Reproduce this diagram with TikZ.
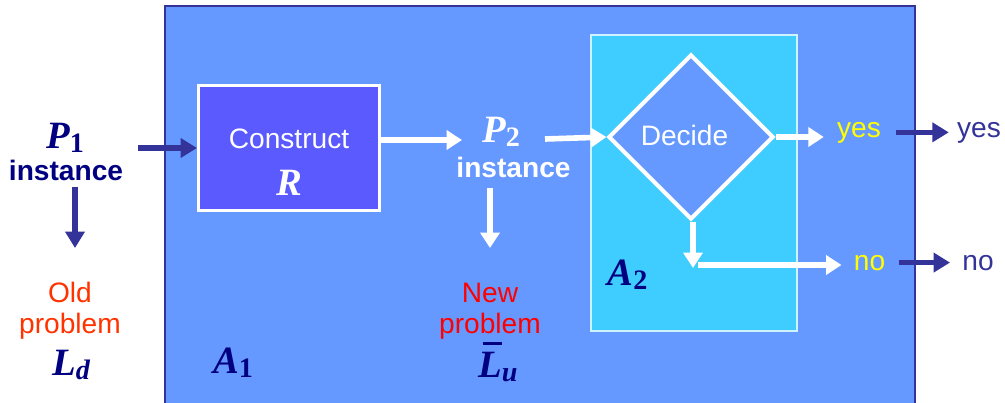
\documentclass[tikz,border=0pt]{standalone}
\usepackage{fontspec}
\setmainfont{Liberation Sans}
\newfontfamily\tnr{Liberation Serif}
\usetikzlibrary{arrows.meta,shapes.geometric}

\definecolor{panel}{HTML}{6699FF}
\definecolor{rim}{HTML}{333399}
\definecolor{rbox}{HTML}{5A5AFF}
\definecolor{abox}{HTML}{3FCCFF}
\definecolor{navy}{HTML}{000080}
\definecolor{oldred}{HTML}{FF3300}
\definecolor{newred}{HTML}{FF0000}
\definecolor{ans}{HTML}{FFFF00}

\newcommand{\vsym}[2]{{\tnr\bfseries\itshape #1}\raisebox{-2.3pt}{\tnr\bfseries\fontsize{16}{16}\selectfont #2}}
\newcommand{\barover}{\rlap{\hspace{0.12em}\rule[0.84em]{0.5em}{1.5pt}}}

\tikzset{
  lbl/.style={inner sep=0pt, anchor=base, font=\fontsize{16}{19}\selectfont},
  bold/.style={lbl, font=\fontsize{16}{19}\selectfont\bfseries},
  symb/.style={inner sep=0pt, anchor=base, font=\fontsize{22}{24}\selectfont},
  warrow/.style={white, line width=3.2pt, -{Triangle[length=0.31cm,width=0.38cm]}},
  darrow/.style={rim, line width=3.2pt, -{Triangle[length=0.33cm,width=0.38cm]}},
}

\begin{document}
\begin{tikzpicture}[line join=miter]
  \useasboundingbox (0,0) rectangle (20.10,8.04);
  % machine A1
  \fill[panel] (3.30,-0.10) rectangle (18.30,7.92);
  \draw[rim, line width=1.2pt] (3.30,-0.10) -- (3.30,7.92) -- (18.30,7.92) -- (18.30,-0.10);
  % machine A2
  \filldraw[fill=abox, draw=white!75!abox, line width=0.9pt] (11.82,1.42) rectangle (15.94,7.34);
  \node[draw=white, fill=rbox, line width=1.7pt, minimum width=3.62cm, minimum height=2.50cm] (construct) at (5.78,5.08) {};
  \node[draw=white, fill=panel, line width=2.3pt, diamond, inner sep=0pt, minimum width=3.30cm, minimum height=3.30cm] (decide) at (13.82,5.30) {};

  \node[lbl, white] (ctxt) at (5.78,5.08) {Construct};
  \node[symb, white] (rsym) at (5.78,4.14) {\vsym{R}{}};
  \node[lbl, white] (dtxt) at (13.69,5.14) {Decide};
  \node[symb, navy] (p1sym) at (1.30,5.08) {\vsym{P}{1}};
  \node[bold, navy] (p1inst) at (1.32,4.44) {instance};
  \node[lbl, oldred] (oldA) at (1.40,2.00) {Old};
  \node[lbl, oldred] (oldB) at (1.40,1.38) {problem};
  \node[symb, navy] (ld) at (1.42,0.54) {\vsym{L}{\itshape d}};
  \node[symb, white] (p2sym) at (10.02,5.20) {\vsym{P}{2}};
  \node[bold, white] (p2inst) at (10.27,4.50) {instance};
  \node[lbl, newred] (newA) at (9.80,2.00) {New};
  \node[lbl, newred] (newB) at (9.80,1.38) {problem};
  \node[symb, navy] (lu) at (9.96,0.50) {\barover\vsym{L}{\itshape u}};
  \node[symb, navy] (a1) at (4.66,0.58) {\vsym{A}{1}};
  \node[symb, navy] (a2) at (12.55,2.34) {\vsym{A}{2}};
  \node[lbl, ans] (yesin) at (17.18,5.30) {yes};
  \node[lbl, rim] (yesout) at (19.58,5.30) {yes};
  \node[lbl, ans] (noin) at (17.39,2.64) {no};
  \node[lbl, rim] (noout) at (19.56,2.64) {no};

  \coordinate (p1out) at (2.76,5.10);
  \coordinate (p1tip) at (1.50,3.08);
  \coordinate (p2in) at (9.24,5.24);
  \coordinate (p2out) at (10.90,5.26);
  \coordinate (p2tip) at (9.80,3.08);
  \coordinate (nodrop) at (13.86,2.68);
  \coordinate (noline) at (13.96,2.74);
  \draw[darrow] (p1out |- construct.west) -- (construct.west);
  \draw[darrow, shorten <=0.12cm] (p1tip |- p1inst.south) -- (p1tip);
  \draw[warrow] (construct.east |- p2in) -- (p2in);
  \draw[warrow] (p2out) -- (decide.west);
  \draw[warrow, shorten <=0.2cm] (p2tip |- p2inst.south) -- (p2tip);
  \draw[warrow, shorten >=0.26cm] (decide.east) -- (decide.east -| yesin.west);
  \draw[darrow, shorten <=0.3cm, shorten >=0.16cm] (yesin.east) -- (yesout.west);
  \draw[warrow] (decide.south -| nodrop) -- (nodrop);
  \draw[warrow, shorten >=0.24cm] (noline) -- (noline -| noin.west);
  \draw[darrow, shorten <=0.26cm, shorten >=0.24cm] (noin.east) -- (noout.west);
\end{tikzpicture}
\end{document}
